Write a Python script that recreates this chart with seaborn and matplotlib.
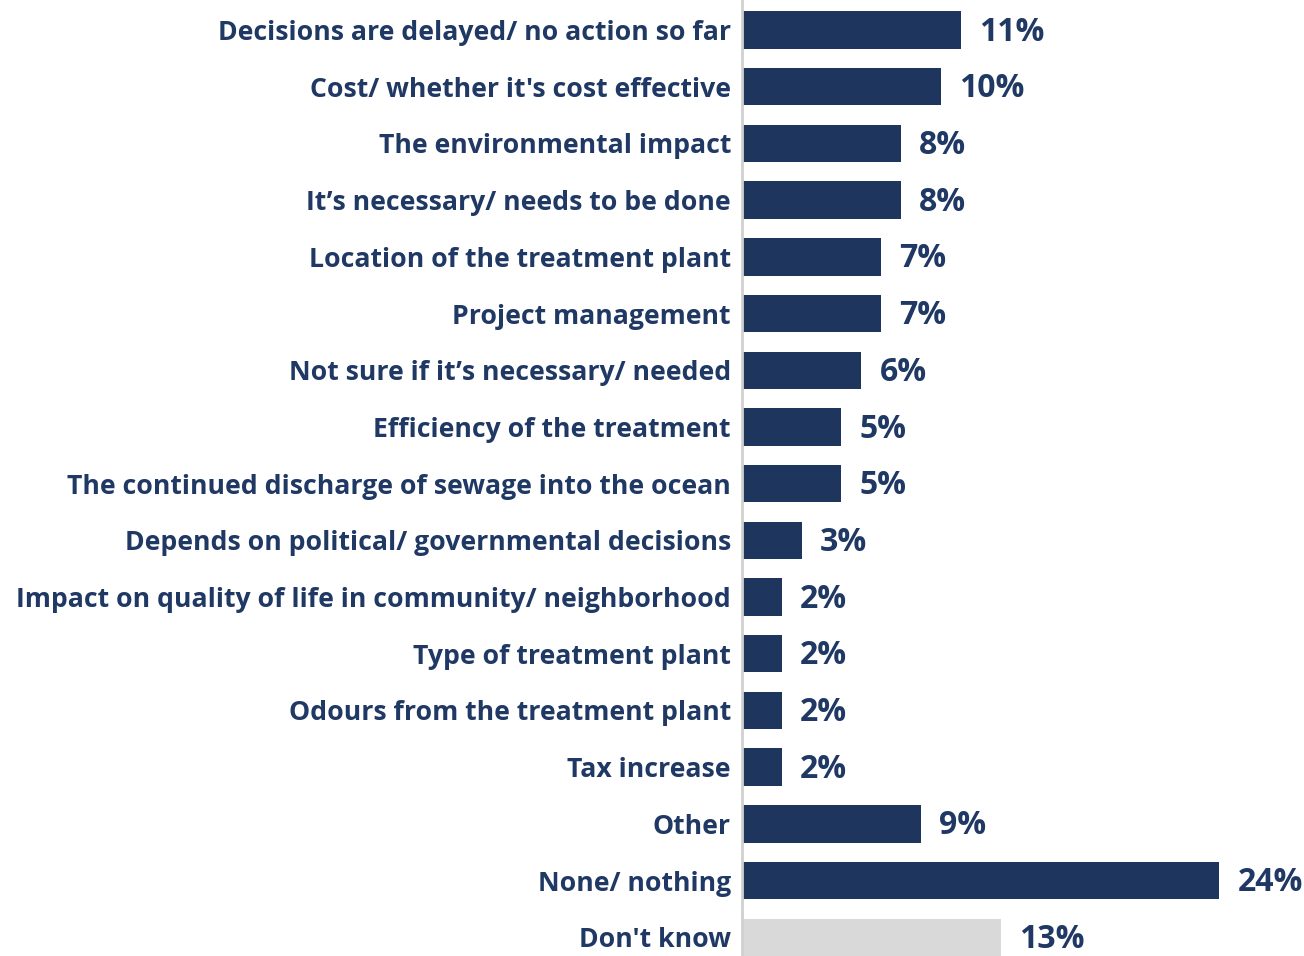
import pandas as pd
import matplotlib.pyplot as plt
import seaborn as sns

# Данные
labels = ["Decisions are delayed/ no action so far",
          "Cost/ whether it's cost effective",
          "The environmental impact",
          "It\u2019s necessary/ needs to be done",
          "Location of the treatment plant",
          "Project management",
          "Not sure if it\u2019s necessary/ needed",
          "Efficiency of the treatment",
          "The continued discharge of sewage into the ocean",
          "Depends on political/ governmental decisions",
          "Impact on quality of life in community/ neighborhood",
          "Type of treatment plant",
          "Odours from the treatment plant",
          "Tax increase",
          "Other",
          "None/ nothing",
          "Don't know"]
values = [11, 10, 8, 8, 7, 7, 6, 5, 5, 3, 2, 2, 2, 2, 9, 24, 13]
groups = ["main"] * 16 + ["dk"]

navy = "#1E365D"
text_col = "#1F3864"
palette = {"main": navy, "dk": "#D9D9D9"}

df = pd.DataFrame({"label": labels, "value": values, "group": groups})

sns.set_style("white")
plt.rcParams["font.family"] = ["Open Sans", "DejaVu Sans"]

fig = plt.figure(figsize=(13.04, 9.56), dpi=100)
ax = fig.add_axes([742 / 1304, 0, (1300 - 742) / 1304, 1])

sns.barplot(data=df, x="value", y="label", hue="group", palette=palette,
            orient="h", width=0.66, dodge=False, legend=False, saturation=1,
            linewidth=0, ax=ax)

ax.set_xlim(0, 28.05)
ax.set_ylim(16.33, -0.53)
ax.set_xlabel("")
ax.set_ylabel("")
ax.set_xticks([])
ax.tick_params(axis="y", length=0, pad=8)
for t in ax.get_yticklabels():
    t.set_fontsize(19.2)
    t.set_fontweight("bold")
    t.set_color(text_col)

for s in ["top", "right", "bottom"]:
    ax.spines[s].set_visible(False)
ax.spines["left"].set_color("#D0D0D0")
ax.spines["left"].set_linewidth(2)

# Подписи значений
for i, v in enumerate(values):
    ax.annotate(f"{v}%", (v, i), xytext=(13, -1.5), textcoords="offset points",
                va="center", ha="left", fontsize=23, fontweight="bold",
                color=text_col, annotation_clip=False)

fig.savefig("out.png", dpi=100)
